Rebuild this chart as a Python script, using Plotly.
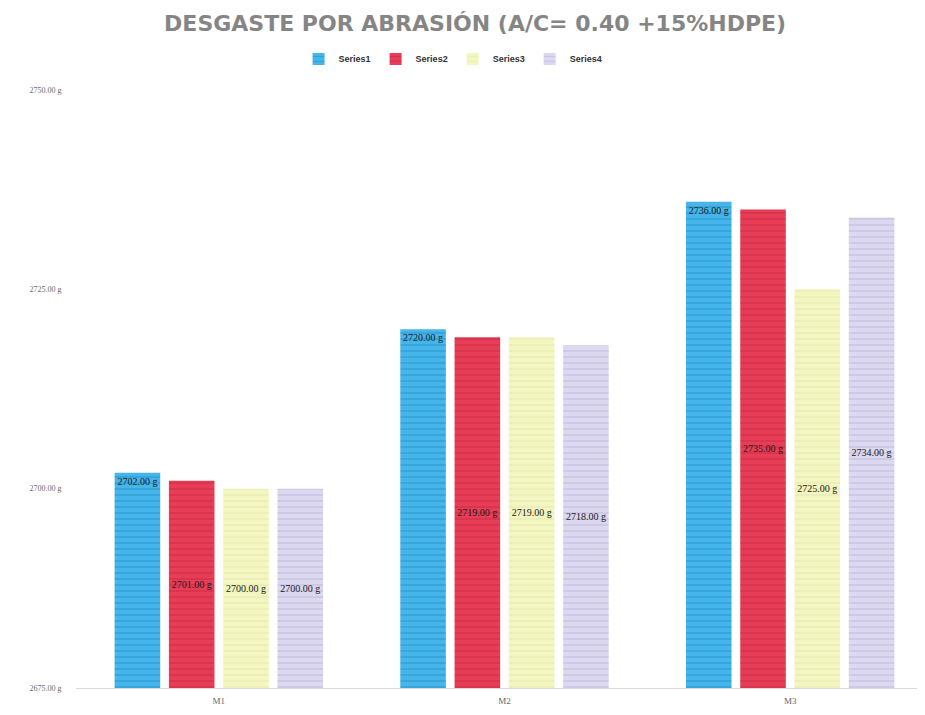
import plotly.graph_objects as go

categories = ["M1", "M2", "M3"]
series_names = ["Series1", "Series2", "Series3", "Series4"]
series1 = [2702, 2720, 2736]
series2 = [2701, 2719, 2735]
series3 = [2700, 2719, 2725]
series4 = [2700, 2718, 2734]
y_ticks = [2675, 2700, 2725, 2750]

y_min = y_ticks[0]
values = [series1, series2, series3, series4]
colors = ["#45b6ea", "#e83d56", "#f3f6c0", "#dcd8f0"]
stripe = ["#2688c4", "#c02740", "#e2e8a6", "#b5afd8"]
anchors = ["end", "middle", "middle", "middle"]

fig = go.Figure()
for name, vals, c, s, a in zip(series_names, values, colors, stripe, anchors):
    fig.add_trace(go.Bar(
        x=categories, y=[v - y_min for v in vals], base=y_min, name=name,
        marker=dict(color=c, line=dict(width=0),
                    pattern=dict(shape="-", fgcolor=s, bgcolor=c, size=6, solidity=0.25)),
        text=[f"{v:.2f} g" for v in vals],
        textposition="inside", insidetextanchor=a, textangle=0,
        constraintext="none",
        insidetextfont=dict(family="Liberation Serif", size=10, color="#1a1a1a"),
    ))

fig.update_layout(
    width=925, height=715,
    paper_bgcolor="white", plot_bgcolor="white",
    margin=dict(l=68, r=0, t=82, b=35, autoexpand=False),
    barmode="group", bargap=0.24, bargroupgap=0.16,
    title=dict(text="DESGASTE POR ABRASIÓN (A/C= 0.40 +15%HDPE)",
               x=0.505, xref="container", y=0.978, yanchor="middle", xanchor="center",
               font=dict(family="DejaVu Sans", size=22, color="#858585", weight="bold")),
    legend=dict(orientation="h", x=0.44, xanchor="center", y=1.052, yanchor="middle",
                font=dict(family="Liberation Sans", size=9, color="#333333", weight="bold"),
                itemwidth=30, tracegroupgap=0, traceorder="normal"),
    yaxis=dict(range=[2675, 2750], tickvals=y_ticks,
               ticktext=[f"{t:.2f} g" for t in y_ticks],
               showgrid=False, zeroline=False, showline=False, automargin=False,
               ticks="outside", ticklen=12, tickcolor="rgba(0,0,0,0)",
               tickfont=dict(family="Liberation Serif", size=8, color="#6a6a6a")),
    xaxis=dict(showline=True, linecolor="#d9d9d9", linewidth=1, automargin=False,
               ticks="outside", ticklen=4, tickcolor="rgba(0,0,0,0)",
               tickfont=dict(family="Liberation Serif", size=9, color="#666666")),
)

fig.write_html("out.html")
